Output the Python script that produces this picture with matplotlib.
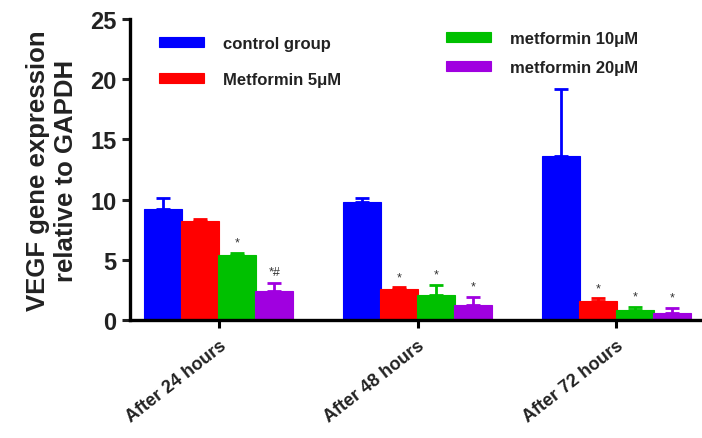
import numpy as np
import matplotlib.pyplot as plt

plt.rcParams['font.family'] = ['Liberation Sans', 'DejaVu Sans']
plt.rcParams['font.weight'] = 'bold'

groups = ['After 24 hours', 'After 48 hours', 'After 72 hours']
series = ['control group', 'Metformin 5μM', 'metformin 10μM', 'metformin 20μM']
colors = ['#0000ff', '#ff0000', '#00c000', '#a000e0']

means = [
    [9.2, 9.8, 13.6],   # control
    [8.2, 2.6, 1.6],    # 5 uM
    [5.4, 2.1, 0.85],   # 10 uM
    [2.4, 1.25, 0.6],   # 20 uM
]
errs = [
    [0.9, 0.3, 5.6],
    [0.2, 0.1, 0.2],
    [0.2, 0.8, 0.25],
    [0.7, 0.65, 0.4],
]
marks = [
    ['', '', ''],
    ['', '*', '*'],
    ['*', '*', '*'],
    ['*#', '*', '*'],
]

fig = plt.figure(figsize=(7.02, 4.39), dpi=100)
ax = fig.add_axes([0.185, 0.269, 0.815, 0.685])

x = np.arange(len(groups))
w = 0.19
offs = np.array([-1.5, -0.5, 0.5, 1.5]) * 0.186

for i in range(len(series)):
    xs = x + offs[i]
    ax.bar(xs, means[i], w, color=colors[i], edgecolor=colors[i], linewidth=0.8,
           label=series[i], zorder=2)
    ax.errorbar(xs, means[i], yerr=[np.zeros(3), errs[i]], fmt='none',
                ecolor=colors[i], elinewidth=2, capsize=5, capthick=2, zorder=3)
    for j in range(len(groups)):
        if marks[i][j]:
            top = means[i][j] + errs[i][j]
            ax.text(xs[j], top + 0.35, marks[i][j], ha='center', va='bottom',
                    fontsize=9, color='#333333', fontweight='normal')

ax.set_xlim(-0.447, 2.43)
ax.set_ylim(0, 25)
ax.set_yticks([0, 5, 10, 15, 20, 25])
ax.set_xticks(x)
ax.set_xticklabels(groups, rotation=38, ha='right', rotation_mode='anchor',
                   fontsize=13, fontweight='bold', color='#222222')
ax.tick_params(axis='y', labelsize=17, width=2.2, length=6, colors='#222222')
ax.tick_params(axis='x', width=2.2, length=6, pad=6)

for s in ['top', 'right']:
    ax.spines[s].set_visible(False)
for s in ['left', 'bottom']:
    ax.spines[s].set_linewidth(2.4)
for lbl in ax.get_yticklabels():
    lbl.set_fontweight('bold')

ax.set_ylabel('VEGF gene expression\nrelative to GAPDH', fontsize=18.5,
              fontweight='bold', color='#222222', labelpad=9, linespacing=1.2)

handles, labels = ax.get_legend_handles_labels()
leg1 = ax.legend(handles[:2], labels[:2], loc='upper left', bbox_to_anchor=(0.025, 0.995),
                 frameon=False, fontsize=12, handlelength=2.7, handleheight=0.55,
                 labelspacing=1.25, handletextpad=1.1)
for t in leg1.get_texts():
    t.set_fontweight('bold')
    t.set_color('#222222')
ax.add_artist(leg1)
leg2 = ax.legend(handles[2:], labels[2:], loc='upper left', bbox_to_anchor=(0.527, 1.01),
                 frameon=False, fontsize=12, handlelength=2.7, handleheight=0.55,
                 labelspacing=0.85, handletextpad=1.1)
for t in leg2.get_texts():
    t.set_fontweight('bold')
    t.set_color('#222222')

fig.savefig('out.png', dpi=100)
